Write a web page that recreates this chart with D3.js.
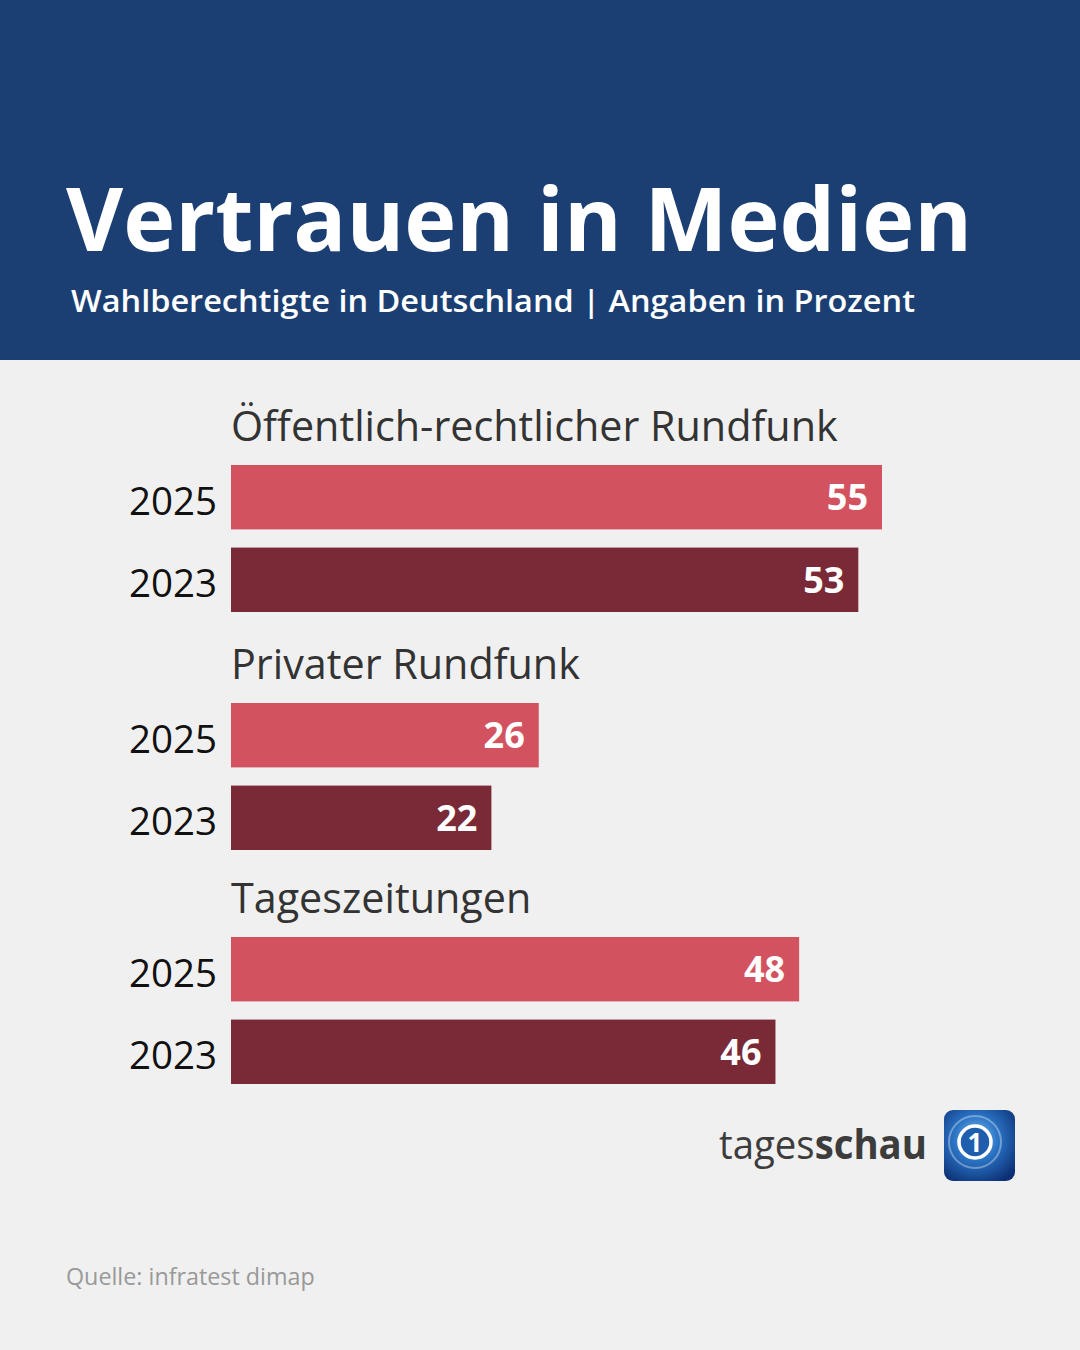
<!DOCTYPE html>
<html>
<head>
<meta charset="utf-8">
<script src="https://cdn.jsdelivr.net/npm/d3@7"></script>
<style>
  html, body { margin: 0; padding: 0; background: #f0f0f0; }
  svg { display: block; }
</style>
</head>
<body>
<div id="chart"></div>
<script>
const groups = ["Öffentlich-rechtlicher Rundfunk", "Privater Rundfunk", "Tageszeitungen"];
const years = ["2025", "2023"];
const values2025 = [55, 26, 48];
const values2023 = [53, 22, 46];

const width = 1080;
const height = 1350;
const font = "'Open Sans', 'Noto Sans', sans-serif";

let svg = d3.select("#chart")
    .append("svg")
    .attr("width", width)
    .attr("height", height);

svg.append("rect").attr("width", width).attr("height", height).attr("fill", "#f0f0f0");

// header
svg.append("rect").attr("width", width).attr("height", 360).attr("fill", "#1c3f73");

svg.append("text")
    .attr("x", 66).attr("y", 251)
    .attr("font-family", font).attr("font-weight", 700)
    .attr("font-size", 88).attr("fill", "#fff")
    .attr("textLength", 906).attr("lengthAdjust", "spacingAndGlyphs")
    .text("Vertrauen in Medien");

svg.append("text")
    .attr("x", 71).attr("y", 312)
    .attr("font-family", font).attr("font-weight", 600)
    .attr("font-size", 31).attr("fill", "#fff")
    .attr("textLength", 844).attr("lengthAdjust", "spacingAndGlyphs")
    .text("Wahlberechtigte in Deutschland | Angaben in Prozent");

// scales
const x = d3.scaleLinear().domain([0, 55]).range([231, 882]);

const groupY = d3.scaleOrdinal().domain(groups).range([465, 703, 937]);
const barY = d3.scaleBand().domain(years).range([0, 147]).paddingInner(0.22);

const colors = d3.scaleOrdinal().domain(years).range(["#d35260", "#7a2a37"]);

const rows = [];
groups.forEach(function(g, i) {
    rows.push({group: g, year: "2025", value: values2025[i]});
    rows.push({group: g, year: "2023", value: values2023[i]});
});

let g = svg.append("g");

g.selectAll("text.group")
    .data(groups)
    .enter()
    .append("text")
    .attr("class", "group")
    .attr("x", 231)
    .attr("y", function(d) { return groupY(d) - 24; })
    .attr("font-family", font)
    .attr("font-size", 41.3)
    .attr("fill", "#333")
    .text(function(d) { return d; });

g.selectAll("rect.bar")
    .data(rows)
    .enter()
    .append("rect")
    .attr("class", "bar")
    .attr("x", x(0))
    .attr("y", function(d) { return groupY(d.group) + barY(d.year); })
    .attr("width", function(d) { return x(d.value) - x(0); })
    .attr("height", barY.bandwidth())
    .attr("fill", function(d) { return colors(d.year); });

g.selectAll("text.year")
    .data(rows)
    .enter()
    .append("text")
    .attr("class", "year")
    .attr("x", 217)
    .attr("y", function(d) { return groupY(d.group) + barY(d.year) + barY.bandwidth() / 2; })
    .attr("dy", "0.45em")
    .attr("text-anchor", "end")
    .attr("font-family", font)
    .attr("font-size", 38.5)
    .attr("fill", "#111")
    .text(function(d) { return d.year; });

g.selectAll("text.value")
    .data(rows)
    .enter()
    .append("text")
    .attr("class", "value")
    .attr("x", function(d) { return x(d.value) - 14; })
    .attr("y", function(d) { return groupY(d.group) + barY(d.year) + barY.bandwidth() / 2; })
    .attr("dy", "0.36em")
    .attr("text-anchor", "end")
    .attr("font-family", font)
    .attr("font-weight", 700)
    .attr("font-size", 36)
    .attr("fill", "#fff")
    .text(function(d) { return d.value; });

// logo
let logo = svg.append("g");
let brand = logo.append("text")
    .attr("x", 927).attr("y", 1159)
    .attr("text-anchor", "end")
    .attr("font-family", font)
    .attr("font-size", 41)
    .attr("fill", "#3c3c3c")
    .attr("textLength", 208).attr("lengthAdjust", "spacingAndGlyphs");
brand.append("tspan").text("tages");
brand.append("tspan").attr("font-weight", 700).text("schau");

let defs = svg.append("defs");
let grad = defs.append("radialGradient").attr("id", "globe")
    .attr("cx", "45%").attr("cy", "40%").attr("r", "70%");
grad.append("stop").attr("offset", "0%").attr("stop-color", "#7fc0ee");
grad.append("stop").attr("offset", "45%").attr("stop-color", "#2a73c4");
grad.append("stop").attr("offset", "100%").attr("stop-color", "#0c2f74");

logo.append("rect")
    .attr("x", 944).attr("y", 1110).attr("width", 71).attr("height", 71)
    .attr("rx", 9).attr("fill", "url(#globe)");
logo.append("circle")
    .attr("cx", 975).attr("cy", 1142).attr("r", 26)
    .attr("fill", "none").attr("stroke", "rgba(255,255,255,0.35)").attr("stroke-width", 2);
logo.append("circle")
    .attr("cx", 975).attr("cy", 1142).attr("r", 16)
    .attr("fill", "#1f5eae").attr("stroke", "#fff").attr("stroke-width", 3.5);
logo.append("text")
    .attr("x", 975).attr("y", 1152)
    .attr("text-anchor", "middle")
    .attr("font-family", font).attr("font-weight", 700)
    .attr("font-size", 26).attr("fill", "#fff")
    .text("1");

// source
svg.append("text")
    .attr("x", 66).attr("y", 1285)
    .attr("font-family", font)
    .attr("font-size", 23.3)
    .attr("fill", "#999")
    .text("Quelle: infratest dimap");
</script>
</body>
</html>
